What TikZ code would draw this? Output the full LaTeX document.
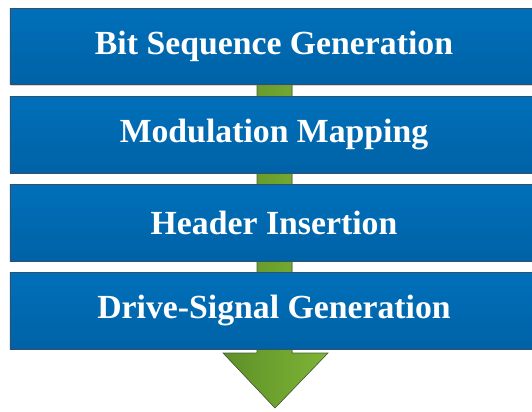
\documentclass[tikz,border=0pt]{standalone}
\usepackage{fontspec}
\setmainfont{Liberation Serif}
\usetikzlibrary{positioning,shadows}
\definecolor{bluetop}{HTML}{0070BA}
\definecolor{bluebot}{HTML}{0062A6}
\definecolor{boxedge}{HTML}{33506B}
\definecolor{greenleft}{HTML}{5E9028}
\definecolor{greenright}{HTML}{7DB535}
\definecolor{greenedge}{HTML}{4A5A3A}
\tikzset{
  stage/.style={draw=boxedge, line width=0.6pt, top color=bluetop, bottom color=bluebot,
    minimum width=13.2cm, minimum height=1.92cm, inner sep=0pt, text=white,
    font=\bfseries\fontsize{24}{26}\selectfont,
    drop shadow={shadow xshift=0.6pt, shadow yshift=-0.6pt, opacity=0.35}},
  flowarrow/.style={left color=greenleft, right color=greenright, draw=greenedge, line width=0.4pt}
}
\begin{document}
\begin{tikzpicture}[x=0.025cm, y=-0.025cm, node distance=0.26cm]
	\useasboundingbox (0,0) rectangle (532,412);
	% green arrow behind the stages
	\coordinate (stemtop) at (275,50);
	\coordinate (tip) at (275,408);
	\filldraw[flowarrow] (257,50) -- (257,353) -- (223,353) -- (tip) -- (328,353) -- (292,353) -- (292,50) -- cycle;
	% stages
	\node[stage] (bits) at (274,46.5) {Bit Sequence Generation};
	\node[stage, below=of bits] (mapping) {Modulation Mapping};
	\node[stage, below=of mapping] (header) {Header Insertion};
	\node[stage, below=of header] (drive) {Drive-Signal Generation};
\end{tikzpicture}
\end{document}
